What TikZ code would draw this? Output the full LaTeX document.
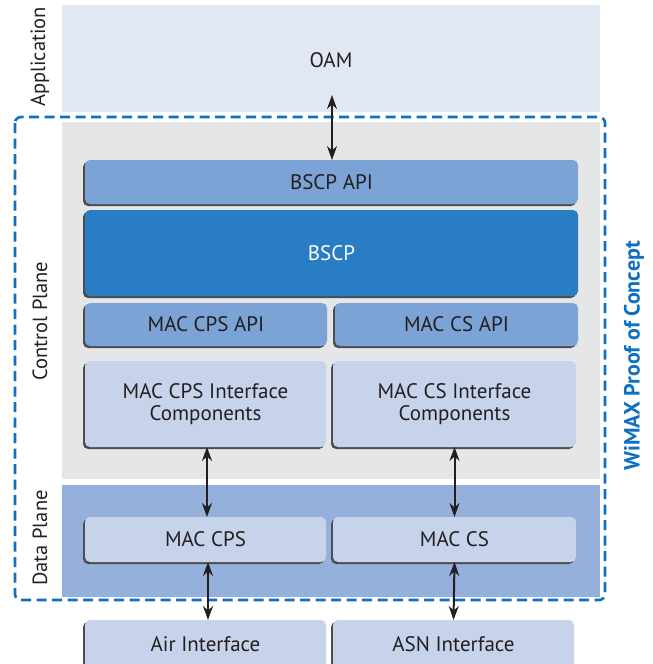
\documentclass[tikz,border=0pt]{standalone}
\usepackage{fontspec}
\setmainfont{PT Sans}
\usetikzlibrary{shadows,arrows.meta}
\definecolor{appbg}{HTML}{E1E8F4}
\definecolor{ctlbg}{HTML}{E5E6E8}
\definecolor{databg}{HTML}{95B0DB}
\definecolor{apibox}{HTML}{7CA3D5}
\definecolor{bscpbox}{HTML}{287DC4}
\definecolor{lightbox}{HTML}{C6D3EA}
\definecolor{dashblue}{HTML}{0F6FC0}
\definecolor{txt}{HTML}{231F20}
\definecolor{shade}{HTML}{4D4D50}
\tikzset{
  x=1pt, y=-1pt,
  layerbox/.style={rounded corners=5pt, inner sep=0, outer sep=0, text=txt,
    font=\fontsize{21}{22}\selectfont, align=center,
    drop shadow={shadow xshift=-2pt, shadow yshift=-2pt, fill=shade, opacity=1}},
  apistyle/.style={layerbox, fill=apibox},
  lightstyle/.style={layerbox, fill=lightbox},
  sidelabel/.style={rotate=90, text=txt, font=\fontsize{20.5}{22}\selectfont},
  link/.style={draw=txt, line width=2pt, {Stealth[length=14pt,width=10pt]}-{Stealth[length=14pt,width=10pt]}},
}
\begin{document}
\begin{tikzpicture}
\useasboundingbox (0,0) rectangle (653,664);
\clip (0,0) rectangle (653,664);
% bands
\fill[appbg] (62,5) rectangle (600,112);
\fill[ctlbg] (62,122) rectangle (600,479);
\fill[databg] (62,485) rectangle (600,597);
% dashed border
\draw[dashblue, line width=2.6pt, dash pattern=on 10pt off 5.5pt, rounded corners=6pt] (15,117) rectangle (605,600);
% labels
\node[text=txt, font=\fontsize{21}{22}\selectfont] (oam) at (331,60) {OAM};
\coordinate (oamend) at (332,95);
\node[sidelabel] (app) at (40,57) {Application};
\node[sidelabel] (ctl) at (40,321) {Control Plane};
\node[sidelabel] (dat) at (40,538) {Data Plane};
\node[rotate=90, text=dashblue, font=\fontsize{22}{22}\selectfont\bfseries] (wimax) at (634,356) {WiMAX Proof of Concept};
% boxes
\node[apistyle, minimum width=493pt, minimum height=44pt] (bscpapi) at (331.5,182) {BSCP API};
\node[layerbox, fill=bscpbox, text=white, minimum width=493pt, minimum height=86pt] (bscp) at (331.5,253) {BSCP};
\node[apistyle, minimum width=242pt, minimum height=43pt] (cpsapi) at (206,324.5) {MAC CPS API};
\node[apistyle, minimum width=243pt, minimum height=43pt] (csapi) at (456.5,324.5) {MAC CS API};
\node[lightstyle, minimum width=241pt, minimum height=86pt] (cpsif) at (205.5,404) {MAC CPS Interface\\Components};
\node[lightstyle, minimum width=243pt, minimum height=86pt] (csif) at (454.5,404) {MAC CS Interface\\Components};
\node[lightstyle, minimum width=241pt, minimum height=45pt] (cps) at (205.5,539.5) {MAC CPS};
\node[lightstyle, minimum width=243pt, minimum height=45pt] (cs) at (454.5,539.5) {MAC CS};
\node[lightstyle, minimum width=241pt, minimum height=48pt] (air) at (205.5,644) {Air Interface};
\node[lightstyle, minimum width=241pt, minimum height=48pt] (asn) at (453.5,644) {ASN Interface};
% connectors
\draw[link] (oamend) -- (oamend |- bscpapi.north);
\draw[link] ([xshift=1.5pt]cpsif.south) -- ([xshift=1.5pt]cps.north);
\draw[link] (csif.south) -- (cs.north);
\draw[link] ([xshift=2.5pt]cps.south) -- ([xshift=2.5pt]air.north);
\draw[link] (cs.south) -- (asn.north);
\end{tikzpicture}
\end{document}
